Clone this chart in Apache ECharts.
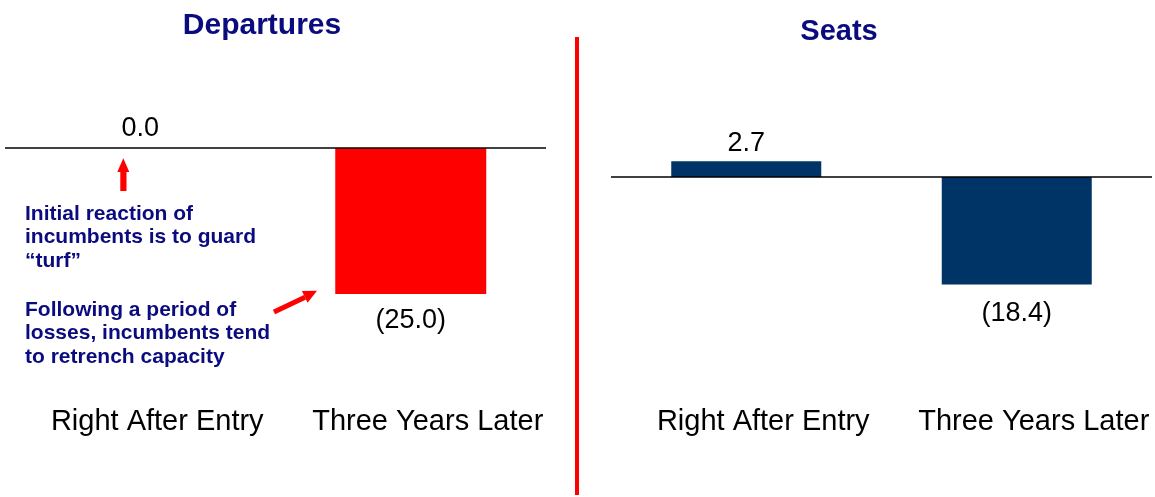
<!DOCTYPE html>
<html>
<head>
<meta charset="utf-8">
<script src="https://cdn.jsdelivr.net/npm/echarts@6/dist/echarts.min.js"></script>
<style>
  html, body { margin: 0; padding: 0; background: #ffffff; }
  #chart { width: 1155px; height: 497px; }
</style>
</head>
<body>
<div id="chart"></div>
<script>
// Categories shared by both panels
const categories = ['Right After Entry', 'Three Years Later'];

// Percent change in departures and seats
const departures = [0.0, -25.0];
const seats = [2.7, -18.4];

// Panel titles
const panelTitles = ['Departures', 'Seats'];

const FONT = 'Liberation Sans, Arial, sans-serif';
const NAVY_TEXT = '#0b0b80';

function fmt(v) {
  return v < 0 ? '(' + Math.abs(v).toFixed(1) + ')' : v.toFixed(1);
}

function barData(values, color, dist) {
  return values.map(function (v) {
    return {
      value: v,
      itemStyle: { color: color },
      label: { position: v < 0 ? 'bottom' : 'top', distance: v < 0 ? dist.neg : dist.pos }
    };
  });
}

const chart = echarts.init(document.getElementById('chart'), null, { renderer: 'canvas' });

const baseLine = {
  silent: true,
  symbol: ['none', 'none'],
  label: { show: false },
  lineStyle: { color: '#000000', width: 1.5, type: 'solid' },
  data: [{ yAxis: 0 }]
};

const valueLabel = {
  show: true,
  fontFamily: FONT,
  fontSize: 27,
  color: '#000000',
  formatter: function (p) { return fmt(p.value); }
};

const catAxis = function (idx) {
  return {
    type: 'category',
    gridIndex: idx,
    data: categories,
    axisLine: { show: false },
    axisTick: { show: false },
    axisLabel: {
      fontFamily: FONT,
      fontSize: 29,
      color: '#000000',
      margin: 26,
      padding: [0, 0, 0, 34],
      interval: 0
    }
  };
};

chart.setOption({
  animation: false,
  title: [
    {
      text: panelTitles[0], left: 262, top: 11, textAlign: 'center', padding: 0,
      textStyle: { fontFamily: FONT, fontSize: 30, fontWeight: 'bold', color: NAVY_TEXT }
    },
    {
      text: panelTitles[1], left: 839, top: 17, textAlign: 'center', padding: 0,
      textStyle: { fontFamily: FONT, fontSize: 29, fontWeight: 'bold', color: NAVY_TEXT }
    }
  ],
  grid: [
    { left: 5, width: 541, top: 89.6, height: 292 },
    { left: 611, width: 541, top: 118.6, height: 262.8 }
  ],
  xAxis: [catAxis(0), catAxis(1)],
  yAxis: [
    { type: 'value', gridIndex: 0, min: -40, max: 10, show: false, splitLine: { show: false } },
    { type: 'value', gridIndex: 1, min: -35, max: 10, show: false, splitLine: { show: false } }
  ],
  series: [
    {
      type: 'bar', xAxisIndex: 0, yAxisIndex: 0,
      barWidth: 151,
      data: barData(departures, '#ff0000', { pos: 6, neg: 13 }),
      label: valueLabel,
      markLine: baseLine
    },
    {
      type: 'bar', xAxisIndex: 1, yAxisIndex: 1,
      barWidth: 150,
      data: barData(seats, '#003366', { pos: 4, neg: 16 }),
      label: valueLabel,
      markLine: baseLine
    }
  ],
  graphic: [
    // divider between the two panels
    {
      type: 'line', silent: true,
      shape: { x1: 577, y1: 37, x2: 577, y2: 495 },
      style: { stroke: '#ff0000', lineWidth: 4 }
    },
    // up arrow under the zero bar
    {
      type: 'polygon', silent: true,
      shape: { points: [[120.3, 191], [120.3, 172], [117.3, 172], [123.3, 158.3], [129.3, 172], [126.5, 172], [126.5, 191]] },
      style: { fill: '#ff0000' }
    },
    // diagonal arrow toward the declining bar
    {
      type: 'line', silent: true,
      shape: { x1: 274, y1: 312, x2: 305, y2: 297.2 },
      style: { stroke: '#ff0000', lineWidth: 5 }
    },
    {
      type: 'polygon', silent: true,
      shape: { points: [[317, 290.7], [307.6, 302.7], [301.9, 291.1]] },
      style: { fill: '#ff0000' }
    },
    {
      type: 'text', silent: true, left: 25, top: 202,
      style: {
        text: 'Initial reaction of\nincumbents is to guard\n\u201cturf\u201d',
        font: 'bold 21px ' + FONT,
        lineHeight: 23.5,
        fill: NAVY_TEXT
      }
    },
    {
      type: 'text', silent: true, left: 25, top: 298,
      style: {
        text: 'Following a period of\nlosses, incumbents tend\nto retrench capacity',
        font: 'bold 21px ' + FONT,
        lineHeight: 23.5,
        fill: NAVY_TEXT
      }
    }
  ]
});
</script>
</body>
</html>
